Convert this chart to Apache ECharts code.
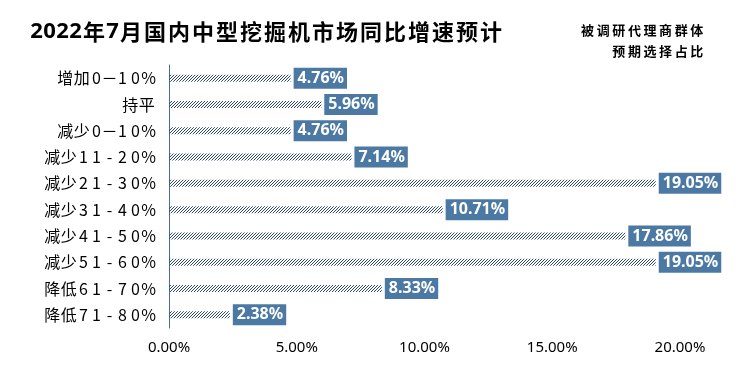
<!DOCTYPE html>
<html><head><meta charset="utf-8">
<script src="https://cdn.jsdelivr.net/npm/echarts@6/dist/echarts.min.js"></script>
<style>html,body{margin:0;padding:0;background:#fff}#c{width:737px;height:369px}</style>
</head><body><div id="c"></div>
<script>
const categories = ['增加0－10%','持平','减少0－10%','减少11-20%','减少21-30%','减少31-40%','减少41-50%','减少51-60%','降低61-70%','降低71-80%'];
const values = [4.76,5.96,4.76,7.14,19.05,10.71,17.86,19.05,8.33,2.38];
const xTicks = [0,5,10,15,20];
const titleText = '2022年7月国内中型挖掘机市场同比增速预计';
const subtitleLines = ['被调研代理商群体','预期选择占比'];

const isCJK = ch => /[\u3400-\u9fff]/.test(ch);
function spaced(str, cjkKey, otherKey){
  return str.split('').map(ch => '{' + (isCJK(ch)?cjkKey:otherKey) + '|' + ch + '}').join('');
}
function hatch(){
  const c=document.createElement('canvas');c.width=3;c.height=3;
  const g=c.getContext('2d');
  g.strokeStyle='#2c4a6e';g.lineWidth=1;
  g.beginPath();g.moveTo(-1,4);g.lineTo(4,-1);g.stroke();
  g.beginPath();g.moveTo(-1,1);g.lineTo(1,-1);g.stroke();
  g.beginPath();g.moveTo(2,4);g.lineTo(4,2);g.stroke();
  return c;
}
const F='Noto Sans CJK SC';
const subRich={c:{fontSize:13,color:'#000',fontFamily:F,width:15.6,align:'center'}};
const chart=echarts.init(document.getElementById('c'),null,{renderer:'canvas'});
chart.setOption({
  animation:false,
  title:[{text:spaced(titleText,'c','d'),left:25,top:16,
      textStyle:{rich:{
        c:{fontSize:22,fontWeight:'bold',color:'#000',fontFamily:F,width:24,align:'center'},
        d:{fontSize:22,fontWeight:'bold',color:'#000',fontFamily:'Noto Sans',width:13,align:'center'}}}},
    {text:spaced(subtitleLines[0],'c','c'),right:35,top:24,padding:0,textStyle:{rich:subRich}},
    {text:spaced(subtitleLines[1],'c','c'),right:35,top:45,padding:0,textStyle:{rich:subRich}}],
  grid:{left:169,right:57,top:65,height:263,containLabel:false},
  xAxis:{type:'value',min:0,max:20,interval:5,
    axisLine:{show:false},axisTick:{show:false},splitLine:{show:false},
    axisLabel:{formatter:v=>v.toFixed(2)+'%',fontSize:15,color:'#000',margin:12,fontFamily:'Noto Sans'}},
  yAxis:{type:'category',data:categories,inverse:true,
    axisLine:{show:true,lineStyle:{color:'#4a6c95',width:1}},axisTick:{show:false},
    axisLabel:{margin:14,formatter:v=>spaced(v,'c','d'),
      rich:{c:{fontSize:16,color:'#000',fontFamily:F,width:16.5,align:'center'},
            d:{fontSize:16,color:'#000',fontFamily:F,width:13,align:'center'}}}},
  series:[{type:'bar',data:values,barWidth:7,
    itemStyle:{color:{image:hatch(),repeat:'repeat'}},
    label:{show:true,position:'right',distance:3,formatter:p=>p.value.toFixed(2)+'%',
      color:'#fff',fontWeight:'bold',fontSize:16,backgroundColor:'#4c79a3',padding:[3,3,2,4],fontFamily:'Noto Sans'}}]
});
</script></body></html>
